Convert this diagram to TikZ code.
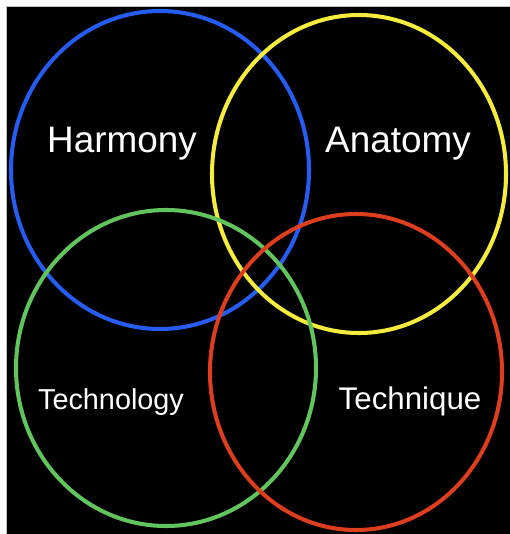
\documentclass[tikz,border=0pt]{standalone}
\usepackage{fontspec}
\setmainfont{Liberation Sans}
\usepackage{tikz}
\usepackage{xcolor}
\usetikzlibrary{positioning}
\definecolor{cBlue}{RGB}{38,92,242}
\definecolor{cYellow}{RGB}{246,236,62}
\definecolor{cGreen}{RGB}{98,196,92}
\definecolor{cRed}{RGB}{222,62,32}
\tikzset{
	ring/.style={draw, line width=2.3pt},
	label/.style={text=white, inner sep=0pt},
}

\begin{document}
\begin{tikzpicture}[x=0.02cm, y=-0.02cm]
			\useasboundingbox (0,0) rectangle (510,534);
			\fill[white] (0,0) rectangle (510,534);
			\fill[black] (6,6) rectangle (510,534);
			\draw[gray!50, line width=0.3pt] (6,534) -- (6,6) -- (510,6);
			\foreach \cx/\cy/\rx/\ry/\col/\nm in {160/170/149/159/cBlue/harmony, 359/174/147/159/cYellow/anatomy, 166/368/150/158/cGreen/technology, 356/372/146/158/cRed/technique} {
				\draw[ring, \col] (\cx,\cy) ellipse [x radius=\rx, y radius=\ry];
				\coordinate (c\nm) at (\cx,\cy);
			}
			\node[label, font=\fontsize{21}{25}\selectfont] (tharmony) at (122,144) {Harmony};
			\node[label, font=\fontsize{21}{25}\selectfont] (tanatomy) at (398,144) {Anatomy};
			\node[label, font=\fontsize{16.4}{20}\selectfont] (ttechnology) at (111,402) {Technology};
			\node[label, font=\fontsize{17.8}{21}\selectfont] (ttechnique) at (410,401) {Technique};
		\end{tikzpicture}
\end{document}
